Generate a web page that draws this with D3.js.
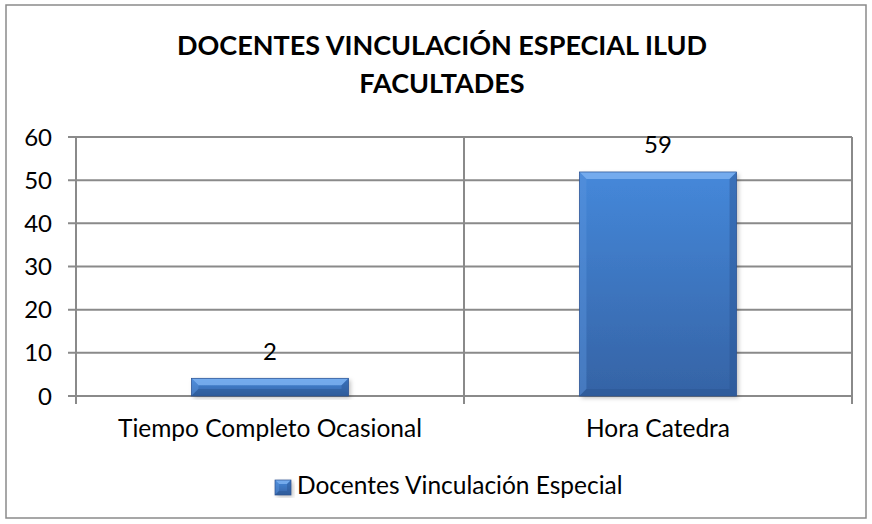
<!DOCTYPE html>
<html>
<head>
<meta charset="utf-8">
<script src="https://cdn.jsdelivr.net/npm/d3@7"></script>
<style>
  body { margin: 0; background: #fff; }
  text { font-family: Lato, "Open Sans", sans-serif; fill: #000; }
</style>
</head>
<body>
<script>
var categories = ["Tiempo Completo Ocasional", "Hora Catedra"];
var values = [4.1, 51.9];        // bar heights as drawn
var valueLabels = ["2", "59"];   // data labels as shown on the chart
var yTicks = [0, 10, 20, 30, 40, 50, 60];
var seriesName = "Docentes Vinculación Especial";
var titleLines = ["DOCENTES VINCULACIÓN ESPECIAL ILUD", "FACULTADES"];

var W = 872, H = 524;
var svg = d3.select("body").append("svg").attr("width", W).attr("height", H);

var defs = svg.append("defs");
var grad = defs.append("linearGradient").attr("id", "barGrad")
  .attr("x1", 0).attr("y1", 0).attr("x2", 0).attr("y2", 1);
grad.append("stop").attr("offset", "0%").attr("stop-color", "#4588da");
grad.append("stop").attr("offset", "100%").attr("stop-color", "#3563a5");

var shadow = defs.append("filter").attr("id", "shadow")
  .attr("x", "-10%").attr("y", "-10%").attr("width", "130%").attr("height", "130%");
shadow.append("feDropShadow").attr("dx", 2).attr("dy", 2).attr("stdDeviation", 2)
  .attr("flood-color", "#000").attr("flood-opacity", 0.25);

// outer border
svg.append("rect").attr("x", 6).attr("y", 5).attr("width", 860).attr("height", 513)
  .attr("fill", "none").attr("stroke", "#8a8a8a").attr("stroke-width", 1.5);

// title
svg.selectAll(".title").data(titleLines).enter().append("text")
  .attr("class", "title")
  .attr("x", 442).attr("y", (d, i) => 55 + i * 38)
  .attr("text-anchor", "middle")
  .style("font-weight", "bold").style("font-size", "27px")
  .text(d => d);

var x = d3.scaleBand().domain(categories).range([76, 852]);
var y = d3.scaleLinear().domain([0, 60]).range([396, 137]);

var lineColor = "#8a8a8a";
var g = svg.append("g");

// horizontal gridlines + tick marks
g.selectAll(".grid").data(yTicks).enter().append("line")
  .attr("x1", 68).attr("x2", 852)
  .attr("y1", d => y(d)).attr("y2", d => y(d))
  .attr("stroke", lineColor).attr("stroke-width", 2);

// vertical lines at category boundaries (axis, gridlines, tick marks)
var bounds = categories.map(c => x(c)).concat([x.range()[1]]);
g.selectAll(".vgrid").data(bounds).enter().append("line")
  .attr("x1", d => d).attr("x2", d => d)
  .attr("y1", y(60)).attr("y2", 404)
  .attr("stroke", lineColor).attr("stroke-width", 2);

// y tick labels
g.selectAll(".ylab").data(yTicks).enter().append("text")
  .attr("x", 52).attr("y", d => y(d)).attr("dy", "0.36em")
  .attr("text-anchor", "end").style("font-size", "24px")
  .text(d => d);

// x labels
g.selectAll(".xlab").data(categories).enter().append("text")
  .attr("x", d => x(d) + x.bandwidth() / 2).attr("y", 437)
  .attr("text-anchor", "middle").style("font-size", "24.5px")
  .text(d => d);

// bevelled bar helper
function bevelBar(sel, x0, y0, w, h, b) {
  var x1 = x0 + w, y1 = y0 + h;
  b = Math.min(b, h / 2, w / 2);
  sel.append("rect").attr("x", x0).attr("y", y0).attr("width", w).attr("height", h)
    .attr("fill", "url(#barGrad)").attr("filter", "url(#shadow)");
  var faces = [
    { pts: [[x0, y0], [x1, y0], [x1 - b, y0 + b], [x0 + b, y0 + b]], fill: "#7fb4f2", op: 0.8 },
    { pts: [[x0, y0], [x0 + b, y0 + b], [x0 + b, y1 - b], [x0, y1]], fill: "#5a95dd", op: 0.45 },
    { pts: [[x1, y0], [x1, y1], [x1 - b, y1 - b], [x1 - b, y0 + b]], fill: "#2a5592", op: 0.45 },
    { pts: [[x0, y1], [x0 + b, y1 - b], [x1 - b, y1 - b], [x1, y1]], fill: "#2a5592", op: 0.5 }
  ];
  faces.forEach(f => {
    sel.append("polygon").attr("points", f.pts.map(p => p.join(",")).join(" "))
      .attr("fill", f.fill).attr("fill-opacity", f.op);
  });
  sel.append("rect").attr("x", x0).attr("y", y0).attr("width", w).attr("height", h)
    .attr("fill", "none").attr("stroke", "#2b5190").attr("stroke-width", 0.7);
}

var barFrac = 0.405;
categories.forEach((c, i) => {
  var bw = x.bandwidth() * barFrac;
  var bx = x(c) + (x.bandwidth() - bw) / 2;
  var top = y(values[i]);
  bevelBar(g.append("g"), bx, top, bw, y(0) - top, 7);
  g.append("text")
    .attr("x", bx + bw / 2).attr("y", top - 18.5)
    .attr("text-anchor", "middle").style("font-size", "24px")
    .text(valueLabels[i]);
});

// legend
var leg = svg.append("g");
bevelBar(leg, 275, 480, 16, 15, 4);
leg.append("text").attr("x", 297).attr("y", 494)
  .style("font-size", "24.5px").text(seriesName);
</script>
</body>
</html>
